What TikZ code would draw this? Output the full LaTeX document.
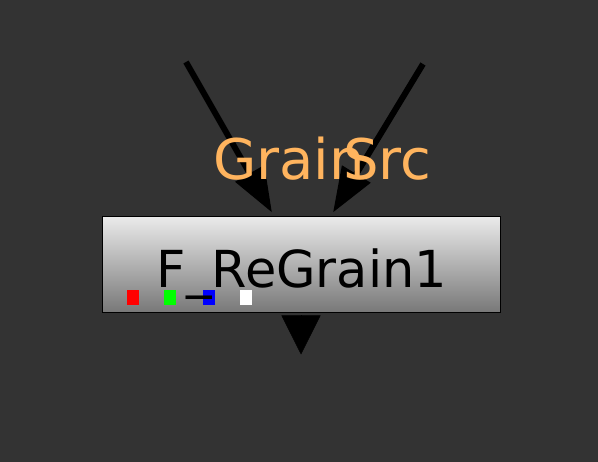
\documentclass[tikz,border=0pt]{standalone}
\usepackage{fontspec}
\setmainfont{DejaVu Sans}
\usetikzlibrary{
  arrows.meta,
  calc,
  positioning,
  shadings,
}
\definecolor{canvas}{HTML}{333333}
\definecolor{labelorange}{HTML}{FFB45E}
\definecolor{boxtop}{HTML}{EAEAEA}
\definecolor{boxbottom}{HTML}{777777}
\tikzset{
  >=Triangle[],
  opnode/.style={draw=black, line width=1pt, top color=boxtop, bottom color=boxbottom,
    minimum width=398pt, minimum height=96pt, inner sep=0pt},
  optext/.style={inner sep=0pt, font=\fontsize{51}{56}\selectfont, text=black},
  inlabel/.style={inner sep=0pt, font=\fontsize{56}{60}\selectfont, text=labelorange},
  chan/.style={minimum width=12pt, minimum height=15pt, inner sep=0pt},
  pipe/.style={line width=6pt, -{Triangle[length=45pt, width=32pt]}},
}

\begin{document}
\begin{tikzpicture}[x=1pt, y=-1pt]
      \fill [canvas] (0,0) rectangle (598,462);
      \useasboundingbox (0,0) rectangle (598,462);
      \node [opnode] (regrain) at (301,265) {};
      \node [chan, fill=red] (red) at (133,297.5) {};
      \node [chan, fill=green, right=25pt of red] (grn) {};
      \node [chan, fill=blue, right=26pt of grn] (blu) {};
      \node [chan, fill=white, right=25pt of blu] (wht) {};
      \node [optext, anchor=base] (name) at (302,288) {F\_ReGrain1};
      \coordinate (grainin) at (186,62);
      \coordinate (srcin) at (423,64);
      \coordinate (outtop) at ([yshift=-2pt]regrain.south);
      \coordinate (out) at ([yshift=-41pt]regrain.south);
      \draw [pipe] (grainin) -- ([xshift=-29pt, yshift=4pt]regrain.north);
      \draw [pipe] (srcin) -- ([xshift=32pt, yshift=4pt]regrain.north);
      \draw [-{Triangle[length=39pt, width=39pt]}, line width=0.5pt] (outtop) -- (out);
      \node [inlabel, anchor=base west] (grain) at (213,180) {Grain};
      \node [inlabel, anchor=base west] (src) at (343,180) {Src};
    \end{tikzpicture}
\end{document}
